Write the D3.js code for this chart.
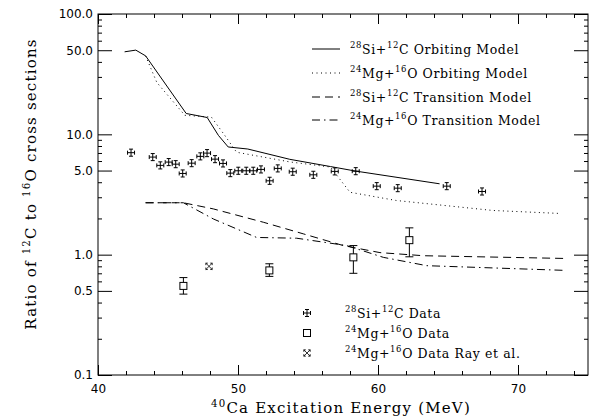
<!DOCTYPE html>
<html><head><meta charset="utf-8">
<script src="https://cdn.jsdelivr.net/npm/d3@7"></script>
<style>body{margin:0;background:#fff}svg{display:block}</style>
</head><body>
<svg id="c" width="590" height="417"></svg>
<script>
// ---- data ----
const siE = [42.36,43.91,44.45,45.05,45.55,46.05,46.69,47.31,47.79,48.36,48.93,49.45,50.02,50.59,51.09,51.64,52.26,52.84,53.91,55.38,56.91,58.41,59.91,61.41,64.91,67.43];
const siR = [7.04,6.47,5.52,5.88,5.65,4.73,5.76,6.56,6.98,6.22,5.73,4.76,4.98,4.98,4.98,5.11,4.11,5.21,4.89,4.61,4.92,4.94,3.71,3.57,3.71,3.35];
const siXErr = 0.25, siYErrRel = 0.07;

const mgE = [46.1,52.24,58.24,62.24];
const mgR = [0.55,0.74,0.95,1.32];
const mgLo = [0.47,0.66,0.70,0.96];
const mgHi = [0.645,0.84,1.19,1.67];

const rayE = [47.93];
const rayR = [0.80];

const siOrbE = [41.9,42.7,43.4,46.3,47.8,48.6,49.3,50.7,53.7,56.6,58.4,64.4];
const siOrbR = [48.5,50.1,44.9,14.9,13.8,9.8,7.85,7.55,6.2,5.4,4.95,3.88];
const mgOrbE = [43.4,44.2,46.2,48.1,49.0,49.9,53.7,56.6,58.0,61.3,68.2,73.0];
const mgOrbR = [44.9,27,14.4,13.9,10,7.1,5.9,5.35,3.3,2.82,2.33,2.2];
const siTrE = [43.4,46.1,48.24,51.81,54.66,57.52,60.14,63.24,73.4];
const siTrR = [2.70,2.70,2.40,1.86,1.49,1.19,1.04,0.98,0.93];
const mgTrE = [43.4,46.1,48.24,51.33,54.19,57.76,60.38,63.48,73.4];
const mgTrR = [2.70,2.70,1.98,1.39,1.37,1.19,0.95,0.81,0.74];

const xMajor = [40,50,60,70];
const xMinor = [42,44,46,48,52,54,56,58,62,64,66,68,72,74];
const yLabeled = [0.1,0.5,1,5,10,50,100];
const yMinor = [0.2,0.3,0.4,0.6,0.7,0.8,0.9,2,3,4,6,7,8,9,20,30,40,60,70,80,90];

const lineLegend = ["^{28}Si+^{12}C Orbiting Model","^{24}Mg+^{16}O Orbiting Model","^{28}Si+^{12}C Transition Model","^{24}Mg+^{16}O Transition Model"];
const dataLegend = ["^{28}Si+^{12}C Data","^{24}Mg+^{16}O Data","^{24}Mg+^{16}O Data Ray et al."];
const xTitle = "^{40}Ca Excitation Energy (MeV)";
const yTitle = "Ratio of ^{12}C to ^{16}O cross sections";

// ---- layout ----
const L = 98, R = 588, T = 14, B = 375;
const svg = d3.select("#c");
const x = d3.scaleLinear().domain([40,75]).range([L,R]);
const y = d3.scaleLog().domain([0.1,100]).range([B,T]);
const serif = "DejaVu Serif";

function rich(sel, str, fs) {
  const parts = str.split(/(\^\{[^}]*\})/).filter(s => s.length);
  let up = false;
  parts.forEach(p => {
    const m = p.match(/^\^\{(.*)\}$/);
    if (m) {
      sel.append("tspan").attr("font-size", fs*0.68).attr("dy", up ? 0 : -fs*0.42).text(m[1]);
      up = true;
    } else {
      sel.append("tspan").attr("font-size", fs).attr("dy", up ? fs*0.42 : 0).text(p);
      up = false;
    }
  });
}

// axes
function styleAxis(g){ g.select(".domain").remove(); g.selectAll("line").attr("stroke","#000").attr("stroke-width",1); g.selectAll("text").attr("font-family","DejaVu Sans").attr("font-size",12).attr("fill","#000"); }
svg.append("g").attr("transform",`translate(0,${B})`).call(d3.axisBottom(x).tickValues(xMajor).tickSizeInner(-10).tickSizeOuter(0).tickPadding(9.5).tickFormat(d3.format("d"))).call(styleAxis);
svg.append("g").attr("transform",`translate(0,${B})`).call(d3.axisBottom(x).tickValues(xMinor).tickSizeInner(-4).tickSizeOuter(0).tickFormat("")).call(styleAxis);
svg.append("g").attr("transform",`translate(0,${T})`).call(d3.axisTop(x).tickValues(xMajor).tickSizeInner(-10).tickSizeOuter(0).tickFormat("")).call(styleAxis);
svg.append("g").attr("transform",`translate(0,${T})`).call(d3.axisTop(x).tickValues(xMinor).tickSizeInner(-4).tickSizeOuter(0).tickFormat("")).call(styleAxis);
svg.append("g").attr("transform",`translate(${L},0)`).call(d3.axisLeft(y).tickValues(yLabeled).tickSizeInner(-14).tickSizeOuter(0).tickPadding(5).tickFormat(d3.format(".1f"))).call(styleAxis);
svg.append("g").attr("transform",`translate(${L},0)`).call(d3.axisLeft(y).tickValues(yMinor).tickSizeInner(-4).tickSizeOuter(0).tickFormat("")).call(styleAxis);
svg.append("g").attr("transform",`translate(${R},0)`).call(d3.axisRight(y).tickValues(yLabeled).tickSizeInner(-14).tickSizeOuter(0).tickFormat("")).call(styleAxis);
svg.append("g").attr("transform",`translate(${R},0)`).call(d3.axisRight(y).tickValues(yMinor).tickSizeInner(-4).tickSizeOuter(0).tickFormat("")).call(styleAxis);
svg.append("rect").attr("x",L).attr("y",T).attr("width",R-L).attr("height",B-T).attr("fill","none").attr("stroke","#000").attr("stroke-width",1);

// titles
rich(svg.append("text").attr("x",(L+R)/2 - 2).attr("y",413).attr("text-anchor","middle").attr("letter-spacing",1.2).attr("font-family",serif).attr("fill","#000"), xTitle, 15);
rich(svg.append("text").attr("transform","translate(36,184) rotate(-90)").attr("text-anchor","middle").attr("letter-spacing",1.2).attr("font-family",serif).attr("fill","#000"), yTitle, 15);

// model lines
const line = d3.line().x(d=>x(d[0])).y(d=>y(d[1]));
const models = [
  {E:siOrbE, R:siOrbR, dash:null},
  {E:mgOrbE, R:mgOrbR, dash:"1,3.5"},
  {E:siTrE, R:siTrR, dash:"8,5"},
  {E:mgTrE, R:mgTrR, dash:"8,4,1.5,4"}
];
models.forEach(m=>{
  svg.append("path").datum(m.E.map((e,i)=>[e,m.R[i]])).attr("d",line).attr("fill","none").attr("stroke","#000").attr("stroke-width",1).attr("stroke-dasharray",m.dash);
});

// markers
function siMark(g, cx, x0, x1, cy, y0, y1){
  const c=2;
  const d=`M${x0},${cy}H${x1}M${x0},${cy-c}V${cy+c}M${x1},${cy-c}V${cy+c}M${cx},${y0}V${y1}M${cx-c},${y0}H${cx+c}M${cx-c},${y1}H${cx+c}`;
  g.append("path").attr("d",d).attr("stroke","#000").attr("stroke-width",1).attr("fill","none");
}
function sqMark(g, cx, cy, s){ g.append("rect").attr("x",cx-s).attr("y",cy-s).attr("width",2*s).attr("height",2*s).attr("fill","#fff").attr("stroke","#000").attr("stroke-width",1); }
function rayMark(g, cx, cy){
  const s=3.2;
  g.append("path").attr("d",`M${cx-s},${cy-s}L${cx+s},${cy+s}M${cx+s},${cy-s}L${cx-s},${cy+s}M${cx-s},${cy-s}H${cx-1.2}M${cx+1.2},${cy-s}H${cx+s}M${cx-s},${cy+s}H${cx-1.2}M${cx+1.2},${cy+s}H${cx+s}M${cx-s},${cy-s}V${cy-1.2}M${cx-s},${cy+1.2}V${cy+s}M${cx+s},${cy-s}V${cy-1.2}M${cx+s},${cy+1.2}V${cy+s}`).attr("stroke","#000").attr("stroke-width",0.8).attr("fill","none");
}
const pts = svg.append("g");
siE.forEach((e,i)=>{ const r=siR[i]; siMark(pts, x(e), x(e-siXErr), x(e+siXErr), y(r), y(r*(1+siYErrRel)), y(r/(1+siYErrRel))); });
mgE.forEach((e,i)=>{
  const cx=x(e);
  pts.append("path").attr("d",`M${cx},${y(mgHi[i])}V${y(mgLo[i])}M${cx-4},${y(mgHi[i])}H${cx+4}M${cx-4},${y(mgLo[i])}H${cx+4}`).attr("stroke","#000").attr("stroke-width",1);
  sqMark(pts, cx, y(mgR[i]), 3.5);
});
rayE.forEach((e,i)=>rayMark(pts, x(e), y(rayR[i])));

// legends
const lg = svg.append("g").attr("font-family",serif).attr("fill","#000");
const lineRows = [49,73,97,120];
lineLegend.forEach((t,i)=>{
  lg.append("line").attr("x1",312).attr("x2",340).attr("y1",lineRows[i]).attr("y2",lineRows[i]).attr("stroke","#000").attr("stroke-width",1).attr("stroke-dasharray",models[i].dash);
  rich(lg.append("text").attr("x",350).attr("y",lineRows[i]+4.5).attr("letter-spacing",0.6), t, 12.5);
});
const dataRows = [313,333,353];
siMark(lg, 307, 303.5, 310.5, dataRows[0], dataRows[0]-3.5, dataRows[0]+3.5);
sqMark(lg, 307, dataRows[1], 3.5);
rayMark(lg, 307, dataRows[2]);
dataLegend.forEach((t,i)=>{ rich(lg.append("text").attr("x",345).attr("y",dataRows[i]+4.5).attr("letter-spacing",0.6), t, 12.5); });
</script>
</body></html>
